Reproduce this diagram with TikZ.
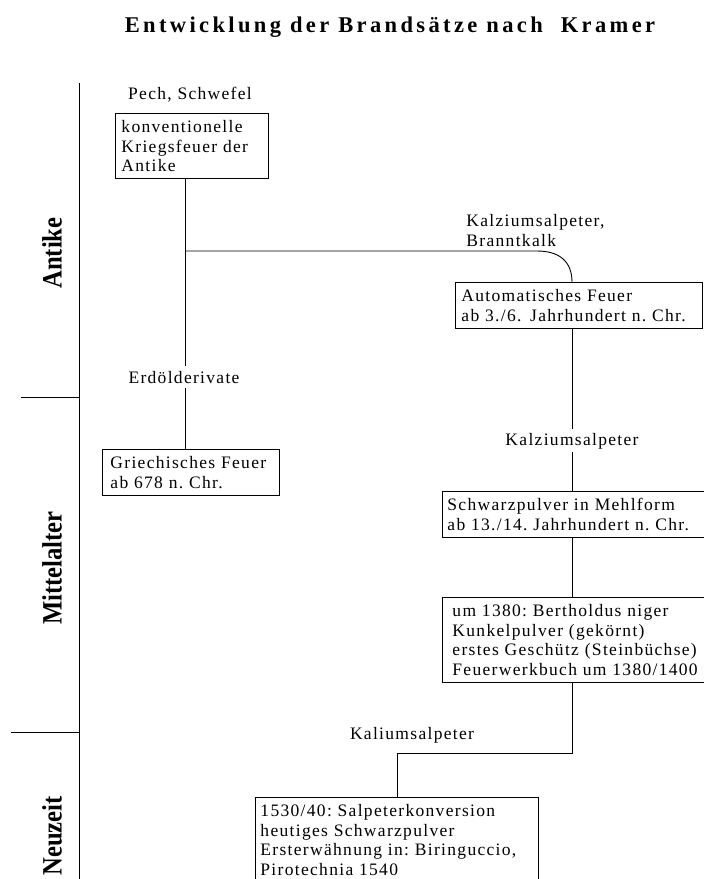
\documentclass[tikz,border=0pt]{standalone}
\usepackage{fontspec}
\setmainfont{Liberation Serif}
\newfontfamily\boxfont{Liberation Serif}[LetterSpace=7.5]
\newfontfamily\titelfont{Liberation Serif}[LetterSpace=15]
\newfontfamily\epochenfont{Liberation Serif}[FakeStretch=0.88]
\frenchspacing

\begin{document}
\begin{tikzpicture}[x=1pt, y=-1pt, line width=0.9pt,
    feld/.style={draw, anchor=north west, align=left, inner xsep=6pt, inner ysep=7pt,
      font=\boxfont\fontsize{17.5}{19.5}\selectfont},
    stoff/.style={inner sep=3pt, font=\boxfont\fontsize{17.5}{19.5}\selectfont},
    epoche/.style={rotate=90, font=\epochenfont\bfseries\fontsize{28}{30}\selectfont}]
  \useasboundingbox (0,0) rectangle (704,879);
  \clip (0,0) rectangle (704,879);

  % Titel
  \node[anchor=base, font=\titelfont\bfseries\fontsize{22.5}{26}\selectfont] (titel) at (390,32)
    {Entwicklung der Brandsätze nach \ Kramer};

  % Zeitleiste links
  \draw (79,83) -- (79,879);
  \draw (21,397) -- (79,397);
  \draw (11,732) -- (79,732);
  \node[epoche] (antike) at (52,253) {Antike};
  \node[epoche] (mittel) at (52,568) {Mittelalter};
  \node[epoche] (neuzeit) at (52,836) {Neuzeit};

  % Kaesten
  \node[feld, text width=141] (konv) at (115,113) {konventionelle\\Kriegsfeuer der\\Antike};
  \node[feld, text width=161, inner xsep=8pt] (grie) at (102,449) {Griechisches Feuer\\ab 678 n. Chr.};
  \node[feld, text width=235] (auto) at (455,282) {Automatisches Feuer\\ab 3./6.\, Jahrhundert n. Chr.};
  \node[feld, text width=262, inner xsep=5pt] (schwarz) at (442,491) {Schwarzpulver in Mehlform\\ab 13./14. Jahrhundert n. Chr.};
  \node[feld, text width=262, inner xsep=10pt] (berth) at (442,597)
    {um 1380: Bertholdus niger\\Kunkelpulver (gekörnt)\\erstes Geschütz (Steinbüchse)\\Feuerwerkbuch um 1380/1400};
  \node[feld, text width=273, inner xsep=5pt] (neu) at (255,797)
    {1530/40: Salpeterkonversion\\heutiges Schwarzpulver\\Ersterwähnung in: Biringuccio,\\Pirotechnia 1540};

  % Zusaetze
  \node[stoff, anchor=base] (pech) at (190,99.5) {Pech, Schwefel};
  \node[stoff, anchor=north west, align=left, inner sep=0pt] (kalk) at (466,214) {Kalziumsalpeter,\\Branntkalk};
  \node[stoff, anchor=base, inner sep=4pt] (erdoel) at (184,383) {Erdölderivate};
  \node[stoff, anchor=base] (kalz) at (572,445) {Kalziumsalpeter};
  \node[stoff, anchor=base] (kali) at (412,739) {Kaliumsalpeter};

  % Verbindungen
  \coordinate (stamm) at (185,0);
  \coordinate (achse) at (572,0);
  \coordinate (ast) at (185,251);
  \coordinate (knick) at (537,251);
  \coordinate (knie) at (397,753);
  \draw (konv.south -| stamm) -- (erdoel.north -| stamm);
  \draw (erdoel.south -| stamm) -- (grie.north -| stamm);
  \draw (ast) -- (knick) .. controls +(23,0) and +(0,-20) .. (auto.north -| achse);
  \draw (auto.south -| achse) -- (kalz.north -| achse);
  \draw (kalz.south -| achse) -- (schwarz.north -| achse);
  \draw (schwarz.south -| achse) -- (berth.north -| achse);
  \draw (berth.south -| achse) |- (knie) -- (neu.north -| knie);
\end{tikzpicture}
\end{document}
